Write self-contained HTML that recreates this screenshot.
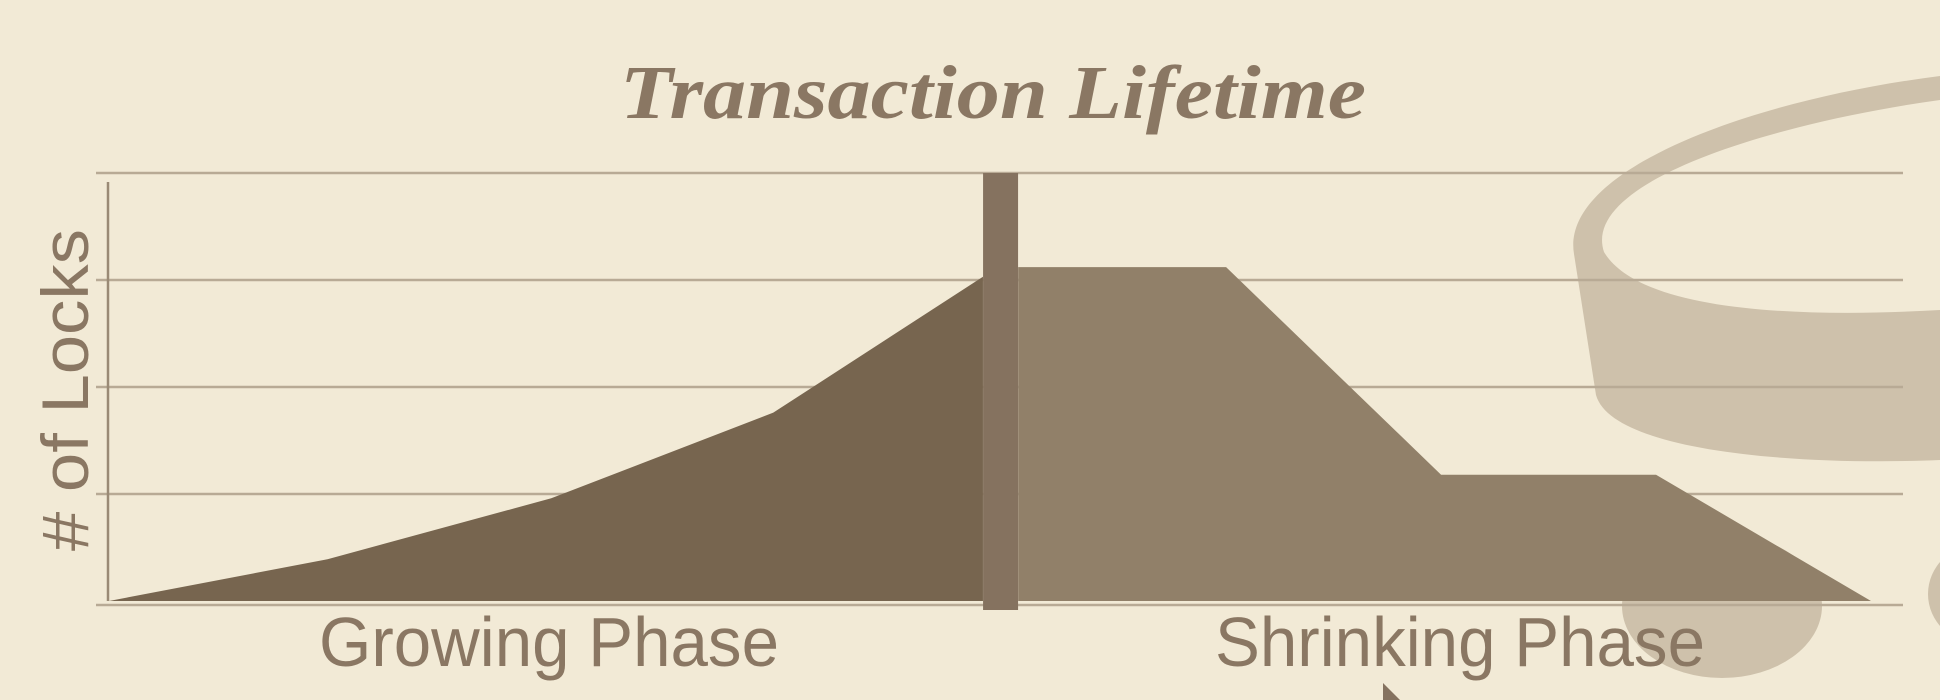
<!DOCTYPE html>
<html><head><meta charset="utf-8"><style>
html,body{margin:0;padding:0;background:#f2ead6;}
svg{display:block;}
</style></head><body>
<svg id="chart" width="1940" height="700" viewBox="0 0 1940 700" xmlns="http://www.w3.org/2000/svg">
<rect x="0" y="0" width="1940" height="700" fill="#f2ead6"/>
<g fill="#cec1ab">
<path d="M1574,254 C1560,170 1750,100 1940,76 L1940,100 C1780,122 1580,180 1604,252 C1640,312 1800,318 1940,310 L1940,460 C1800,466 1612,452 1596,395 Z"/>
<ellipse cx="1722" cy="606" rx="100" ry="72"/>
<ellipse cx="1980" cy="594" rx="52" ry="50"/>
<path d="M1383,683 L1400,700 L1383,700 Z" fill="#85725f"/>
</g>
<g id="grid"></g>
<line x1="108" y1="182" x2="108" y2="601" stroke="#9a8a75" stroke-width="2.5"/>
<g id="marks"></g>
<text x="993" y="118" text-anchor="middle" font-family="Liberation Serif, serif" font-weight="bold" font-style="italic" font-size="76" fill="#8a7763" textLength="746" lengthAdjust="spacingAndGlyphs">Transaction Lifetime</text>
<text transform="translate(88,390) rotate(-90)" text-anchor="middle" font-family="Liberation Sans, sans-serif" font-size="66" fill="#8a7763" textLength="322" lengthAdjust="spacingAndGlyphs"># of Locks</text>
<text x="319" y="666" font-family="Liberation Sans, sans-serif" font-size="70" fill="#8a7763" textLength="460" lengthAdjust="spacingAndGlyphs">Growing Phase</text>
<text x="1215" y="666" font-family="Liberation Sans, sans-serif" font-size="70" fill="#8a7763" textLength="490" lengthAdjust="spacingAndGlyphs">Shrinking Phase</text>
</svg>
<script>
const gridValues = [0, 1, 2, 3, 4];
const growTimes = [0, 12.4, 25.1, 37.7, 49.6];
const growLocks = [0, 0.39, 0.96, 1.76, 3.03];
const shrinkTimes = [51.6, 63.4, 75.6, 87.8, 100];
const shrinkLocks = [3.12, 3.12, 1.18, 1.18, 0];
const lockPointTime = [50.6];
const lockPointValue = [4];

const NS = 'http://www.w3.org/2000/svg';
function xs(t){ return 109 + t * 17.62; }
function ys(v){ return 601 - v * 107; }

const grid = document.getElementById('grid');
gridValues.forEach(v => {
  const l = document.createElementNS(NS, 'line');
  
  
  const y = v === 0 ? ys(v) + 4 : ys(v);
  l.setAttribute('x1', 96); l.setAttribute('x2', 1903);
  l.setAttribute('y1', y); l.setAttribute('y2', y);
  l.setAttribute('stroke', '#b8aa95'); l.setAttribute('stroke-width', '2.5');
  grid.appendChild(l);
});

const marks = document.getElementById('marks');
function area(times, vals, fill, closeAtEnd){
  let pts = times.map((t, i) => xs(t) + ',' + ys(vals[i]));
  const last = times[times.length - 1], first = times[0];
  pts.push(xs(last) + ',' + ys(0));
  pts.push(xs(first) + ',' + ys(0));
  const p = document.createElementNS(NS, 'polygon');
  p.setAttribute('points', pts.join(' '));
  p.setAttribute('fill', fill);
  return p;
}
const g1 = area(growTimes, growLocks, '#77654f');


marks.appendChild(g1);
const g2 = area(shrinkTimes, shrinkLocks, '#918069');


marks.appendChild(g2);

const bar = document.createElementNS(NS, 'rect');


const bw = 35;
bar.setAttribute('x', xs(lockPointTime[0]) - bw / 2);
bar.setAttribute('y', ys(lockPointValue[0]));
bar.setAttribute('width', bw);
bar.setAttribute('height', ys(0) + 9 - ys(lockPointValue[0]));
bar.setAttribute('fill', '#85725f');
marks.appendChild(bar);
</script>
</body></html>
